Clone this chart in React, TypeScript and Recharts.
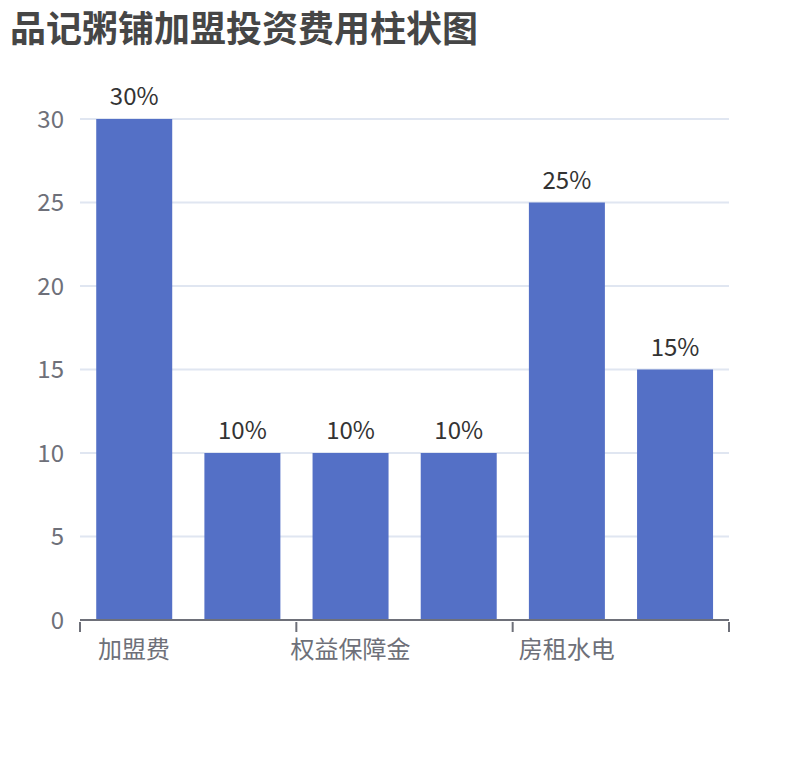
import React from 'react';
import { BarChart, Bar, XAxis, YAxis, CartesianGrid, LabelList } from 'recharts';

const categories = ['加盟费', '设备费', '权益保障金', '装修费', '房租水电', '流动资金'];
const shares = [30, 10, 10, 10, 25, 15];
const yTicks = [0, 5, 10, 15, 20, 25, 30];

const data = categories.map((name, i) => ({ name, value: shares[i] }));

const FONT = '"Noto Sans CJK SC", "Noto Sans", sans-serif';
const CHART_W = 810;
const CHART_H = 760;
const MARGIN = { top: 119, right: 81, left: 20, bottom: 100 };
const Y_AXIS_W = 60;
const PLOT_W = CHART_W - MARGIN.left - MARGIN.right - Y_AXIS_W;
const STEP = PLOT_W / categories.length;

// echarts-style category ticks: line on the band boundary, label centred in the band
const XTick = (props: any) => {
    const { x, y, payload } = props;
    const left = x - STEP / 2;
    const isLastShown = payload.index === categories.length - 2;
    return (
        <g>
            <line x1={left} x2={left} y1={y} y2={y + 10} stroke="#6E7079" strokeWidth={2} />
            {isLastShown && (
                <line x1={x + STEP * 1.5} x2={x + STEP * 1.5} y1={y} y2={y + 10} stroke="#6E7079" strokeWidth={2} />
            )}
            <text x={x} y={y + 36} textAnchor="middle" fill="#6E7079" fontSize={24} fontFamily={FONT}>
                {payload.value}
            </text>
        </g>
    );
};

const App: React.FC = () => {
    return (
        <div style={{ position: 'absolute', left: 0, top: 0, width: CHART_W, height: CHART_H, background: '#fff' }}>
            <div
                style={{
                    position: 'absolute',
                    left: 10,
                    top: 6,
                    fontSize: 36,
                    lineHeight: '40px',
                    fontWeight: 'bold',
                    color: '#464646',
                    fontFamily: FONT,
                    whiteSpace: 'nowrap',
                }}
            >
                品记粥铺加盟投资费用柱状图
            </div>
            <BarChart width={CHART_W} height={CHART_H} data={data} margin={MARGIN} barCategoryGap="15%">
                <CartesianGrid vertical={false} stroke="#E0E6F1" strokeWidth={2} />
                <XAxis
                    dataKey="name"
                    interval={1}
                    tickLine={false}
                    tickSize={0}
                    axisLine={{ stroke: '#6E7079', strokeWidth: 2 }}
                    tick={<XTick />}
                    height={40}
                />
                <YAxis
                    domain={[0, 30]}
                    ticks={yTicks}
                    axisLine={false}
                    tickLine={false}
                    tickSize={0}
                    tickMargin={16}
                    width={Y_AXIS_W}
                    tick={{ fill: '#6E7079', fontSize: 24, fontFamily: FONT }}
                />
                <Bar dataKey="value" fill="#5470C6" isAnimationActive={false}>
                    <LabelList
                        dataKey="value"
                        position="top"
                        offset={14}
                        formatter={(v: any) => `${v}%`}
                        fill="#333"
                        fontSize={24}
                        fontFamily={FONT}
                    />
                </Bar>
            </BarChart>
        </div>
    );
};

export default App;
